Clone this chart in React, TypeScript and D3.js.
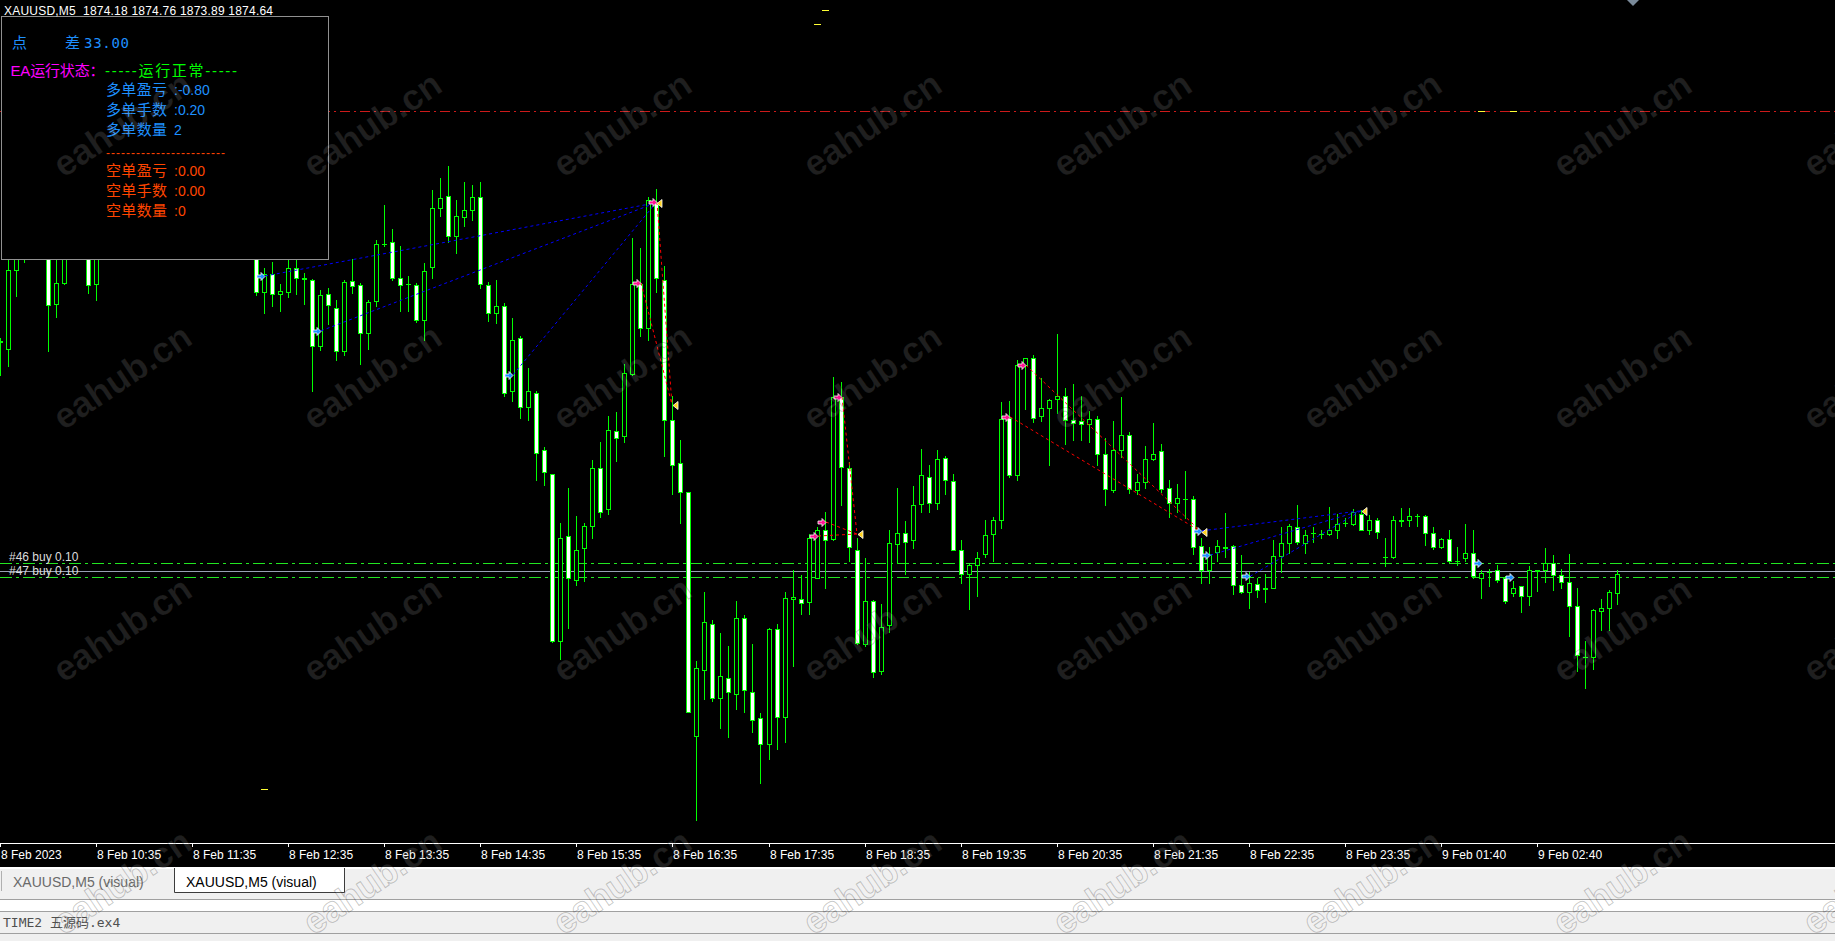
import React from "react";
import * as d3 from "d3";

// XAUUSD M5 bars, one per 5 minutes starting 8 Feb 09:35
const opens = [
  1880.45, 1880.28, 1882.24, 1883.05, 1882.70, 1883.10, 1882.80, 1881.39, 1881.93, 1882.75,
  1882.58, 1882.85, 1881.90, 1882.75, 1883.10, 1882.90, 1883.30, 1883.50, 1883.20, 1882.98,
  1883.25, 1883.45, 1883.13, 1882.85, 1883.05, 1882.78, 1883.00, 1883.23, 1882.95, 1882.75,
  1882.93, 1882.78, 1882.90, 1881.70, 1882.15, 1881.65, 1881.70, 1882.30, 1882.04, 1882.01,
  1880.35, 1881.66, 1881.29, 1880.23, 1881.98, 1881.88, 1880.68, 1881.48, 1882.91, 1882.94,
  1882.04, 1881.90, 1881.88, 1881.01, 1882.32, 1883.80, 1884.11, 1883.10, 1883.58, 1883.75,
  1884.08, 1881.88, 1881.18, 1881.35, 1879.23, 1880.55, 1878.83, 1879.18, 1877.75, 1877.14,
  1872.98, 1875.59, 1874.51, 1875.30, 1875.85, 1877.30, 1876.28, 1878.23, 1878.11, 1879.64,
  1881.90, 1880.81, 1883.93, 1882.01, 1878.50, 1877.43, 1876.69, 1870.61, 1872.25, 1873.40,
  1871.55, 1872.06, 1871.66, 1873.55, 1871.71, 1871.05, 1870.39, 1873.28, 1871.08, 1874.03,
  1874.03, 1873.95, 1874.56, 1875.75, 1875.53, 1879.08, 1877.30, 1875.26, 1872.89, 1873.98,
  1872.22, 1873.37, 1875.41, 1875.68, 1875.49, 1876.41, 1877.08, 1876.43, 1877.55, 1876.98,
  1875.26, 1874.65, 1874.88, 1875.15, 1875.65, 1876.01, 1878.55, 1877.13, 1879.88, 1880.06,
  1878.59, 1878.80, 1879.03, 1879.11, 1878.50, 1878.47, 1878.40, 1878.53, 1877.64, 1876.75,
  1877.75, 1878.13, 1876.75, 1876.94, 1877.53, 1877.73, 1876.80, 1876.43, 1876.53, 1876.53,
  1875.34, 1874.74, 1875.21, 1875.32, 1875.34, 1874.38, 1874.20, 1874.40, 1874.29, 1874.31,
  1875.10, 1875.43, 1875.83, 1875.43, 1875.68, 1875.65, 1875.65, 1875.76, 1875.93, 1875.90,
  1876.15, 1875.76, 1876.01, 1875.08, 1875.08, 1875.99, 1875.99, 1876.10, 1876.10, 1875.68,
  1875.33, 1875.53, 1874.98, 1875.04, 1875.18, 1874.54, 1874.70, 1874.74, 1874.56, 1874.18,
  1874.34, 1874.11, 1874.74, 1874.74, 1874.93, 1874.62, 1874.45, 1873.85, 1872.58, 1872.58,
  1873.73, 1873.81, 1874.18,
];
const highs = [
  1880.55, 1882.63, 1883.20, 1883.30, 1883.38, 1883.25, 1883.00, 1882.75, 1882.80, 1883.00,
  1883.05, 1883.00, 1882.90, 1883.30, 1883.35, 1883.50, 1883.70, 1883.65, 1883.35, 1883.40,
  1883.60, 1883.55, 1883.25, 1883.20, 1883.15, 1883.10, 1883.38, 1883.30, 1883.05, 1883.10,
  1883.05, 1883.00, 1883.00, 1882.30, 1882.45, 1881.90, 1882.50, 1882.50, 1882.18, 1882.03,
  1881.74, 1881.81, 1881.51, 1882.01, 1882.53, 1881.93, 1881.51, 1882.99, 1883.88, 1883.28,
  1882.85, 1882.10, 1881.93, 1882.43, 1884.25, 1884.55, 1884.85, 1883.99, 1884.45, 1884.38,
  1884.45, 1881.96, 1882.00, 1881.43, 1881.05, 1880.59, 1879.80, 1879.23, 1877.83, 1877.15,
  1875.93, 1876.80, 1876.10, 1875.93, 1877.50, 1877.95, 1878.61, 1878.70, 1879.90, 1883.05,
  1882.80, 1884.08, 1884.28, 1882.35, 1879.11, 1878.00, 1876.70, 1872.48, 1874.20, 1873.51,
  1873.18, 1872.86, 1873.98, 1873.63, 1872.89, 1871.18, 1873.29, 1873.40, 1874.20, 1874.76,
  1874.63, 1875.65, 1875.83, 1876.21, 1879.58, 1879.45, 1877.44, 1875.55, 1875.04, 1874.00,
  1873.89, 1875.76, 1876.80, 1875.98, 1876.86, 1877.78, 1877.38, 1877.75, 1877.61, 1877.16,
  1875.49, 1874.90, 1875.20, 1876.01, 1876.08, 1878.95, 1878.98, 1880.00, 1880.06, 1880.13,
  1879.54, 1879.03, 1880.65, 1879.31, 1879.40, 1879.09, 1878.73, 1878.59, 1878.05, 1878.48,
  1879.08, 1878.20, 1877.16, 1877.86, 1878.43, 1877.89, 1877.00, 1876.90, 1877.23, 1876.60,
  1875.55, 1875.33, 1875.49, 1876.18, 1875.38, 1875.13, 1874.70, 1874.54, 1874.65, 1875.49,
  1875.83, 1875.90, 1876.38, 1875.76, 1875.83, 1875.75, 1876.33, 1876.15, 1876.05, 1876.28,
  1876.25, 1876.13, 1876.05, 1875.54, 1876.10, 1876.30, 1876.30, 1876.16, 1876.13, 1875.83,
  1875.55, 1875.76, 1875.33, 1875.91, 1875.75, 1874.76, 1874.78, 1874.88, 1874.60, 1874.48,
  1874.35, 1874.85, 1874.76, 1875.30, 1875.13, 1874.78, 1875.15, 1874.29, 1872.98, 1873.78,
  1874.03, 1874.26, 1874.76,
];
const lows = [
  1879.63, 1879.86, 1881.60, 1882.45, 1882.55, 1882.60, 1880.23, 1881.08, 1881.90, 1882.53,
  1882.53, 1881.68, 1881.49, 1882.63, 1882.75, 1882.80, 1883.15, 1883.05, 1882.80, 1882.85,
  1883.10, 1883.00, 1882.70, 1882.70, 1882.65, 1882.63, 1882.85, 1882.80, 1882.60, 1882.63,
  1882.60, 1882.58, 1881.63, 1881.18, 1881.35, 1881.23, 1881.58, 1881.65, 1881.40, 1879.23,
  1880.26, 1880.90, 1880.00, 1880.13, 1881.68, 1879.90, 1880.28, 1881.35, 1882.85, 1882.00,
  1881.23, 1881.23, 1880.95, 1880.51, 1882.05, 1883.61, 1882.96, 1882.68, 1883.35, 1883.50,
  1881.80, 1880.98, 1880.93, 1879.10, 1878.98, 1878.55, 1878.49, 1877.00, 1876.88, 1872.95,
  1872.53, 1873.29, 1874.38, 1874.48, 1875.55, 1876.08, 1876.15, 1877.48, 1877.96, 1879.63,
  1880.59, 1880.51, 1881.70, 1877.61, 1876.64, 1875.93, 1871.20, 1868.49, 1871.53, 1871.48,
  1870.79, 1870.58, 1871.28, 1871.21, 1870.69, 1869.43, 1870.03, 1870.28, 1870.46, 1872.34,
  1873.65, 1873.65, 1874.55, 1874.30, 1875.51, 1876.38, 1874.98, 1872.91, 1872.84, 1872.08,
  1872.14, 1873.20, 1874.93, 1874.65, 1875.30, 1876.21, 1876.21, 1876.28, 1876.64, 1875.25,
  1874.43, 1873.78, 1874.11, 1875.08, 1874.98, 1875.79, 1877.08, 1877.00, 1878.78, 1878.45,
  1878.48, 1877.38, 1878.68, 1877.89, 1878.00, 1878.00, 1877.95, 1877.38, 1876.38, 1876.71,
  1877.58, 1876.68, 1876.66, 1876.80, 1877.50, 1876.71, 1876.08, 1876.19, 1876.05, 1875.15,
  1874.43, 1874.43, 1874.98, 1875.08, 1874.15, 1874.18, 1873.81, 1874.08, 1873.95, 1874.31,
  1874.70, 1875.18, 1875.40, 1875.18, 1875.45, 1875.56, 1875.63, 1875.56, 1875.85, 1875.88,
  1875.75, 1875.65, 1875.54, 1874.85, 1875.04, 1875.85, 1875.85, 1875.85, 1875.38, 1875.28,
  1875.30, 1874.96, 1874.88, 1874.98, 1874.54, 1874.06, 1874.34, 1874.45, 1873.93, 1874.11,
  1873.70, 1873.88, 1874.23, 1874.45, 1874.26, 1874.29, 1873.09, 1872.22, 1871.80, 1872.28,
  1873.25, 1873.25, 1873.89,
];
const closes = [
  1880.48, 1882.24, 1883.00, 1882.70, 1883.10, 1882.75, 1881.38, 1881.93, 1882.60, 1882.55,
  1882.88, 1881.88, 1882.75, 1883.10, 1882.90, 1883.30, 1883.50, 1883.20, 1882.98, 1883.25,
  1883.45, 1883.13, 1882.85, 1883.05, 1882.78, 1883.00, 1883.23, 1882.95, 1882.75, 1882.93,
  1882.78, 1882.90, 1881.70, 1882.15, 1881.65, 1881.73, 1882.30, 1882.04, 1882.03, 1880.35,
  1881.63, 1881.37, 1880.23, 1881.94, 1881.85, 1880.68, 1881.46, 1882.89, 1882.90, 1882.04,
  1881.88, 1881.89, 1881.01, 1882.23, 1883.80, 1884.05, 1883.10, 1883.60, 1883.75, 1884.08,
  1881.90, 1881.18, 1881.35, 1879.18, 1880.49, 1878.83, 1879.23, 1877.68, 1877.20, 1872.98,
  1875.56, 1874.54, 1875.24, 1875.85, 1877.30, 1876.21, 1878.25, 1878.05, 1879.68, 1881.90,
  1880.79, 1884.00, 1882.04, 1878.50, 1877.38, 1876.71, 1871.21, 1872.30, 1873.45, 1871.55,
  1872.10, 1871.71, 1873.55, 1871.75, 1871.01, 1870.39, 1873.28, 1871.08, 1874.06, 1874.08,
  1873.93, 1875.56, 1875.76, 1875.51, 1879.08, 1877.33, 1875.33, 1872.93, 1873.98, 1872.20,
  1873.33, 1875.43, 1875.68, 1875.45, 1876.38, 1877.13, 1876.43, 1877.53, 1877.00, 1875.26,
  1874.65, 1874.88, 1875.04, 1875.63, 1876.01, 1878.53, 1877.13, 1879.88, 1880.06, 1878.55,
  1878.80, 1879.00, 1879.10, 1878.50, 1878.43, 1878.40, 1878.53, 1877.64, 1876.78, 1877.75,
  1878.13, 1876.78, 1876.94, 1877.53, 1877.66, 1876.78, 1876.43, 1876.55, 1876.52, 1875.33,
  1874.74, 1875.15, 1875.35, 1875.31, 1874.38, 1874.20, 1874.43, 1874.25, 1874.28, 1875.10,
  1875.43, 1875.85, 1875.45, 1875.63, 1875.67, 1875.64, 1875.76, 1875.90, 1875.92, 1876.21,
  1875.76, 1876.01, 1875.71, 1875.07, 1876.01, 1875.98, 1876.10, 1876.09, 1875.68, 1875.33,
  1875.53, 1874.98, 1874.97, 1875.18, 1874.60, 1874.68, 1874.69, 1874.51, 1873.98, 1874.31,
  1874.11, 1874.74, 1874.73, 1874.93, 1874.62, 1874.45, 1873.85, 1872.63, 1872.57, 1873.76,
  1873.81, 1874.20, 1874.64,
];

// time axis: one label every 12 bars
const timeLabels = [
  "8 Feb 2023", "8 Feb 10:35", "8 Feb 11:35", "8 Feb 12:35", "8 Feb 13:35", "8 Feb 14:35",
  "8 Feb 15:35", "8 Feb 16:35", "8 Feb 17:35", "8 Feb 18:35", "8 Feb 19:35", "8 Feb 20:35",
  "8 Feb 21:35", "8 Feb 22:35", "8 Feb 23:35", "9 Feb 01:40", "9 Feb 02:40",
];
const labelStep = 12;

// tester trades
const tradeTypes = ["buy", "buy", "buy", "sell", "sell", "sell", "sell", "sell", "sell", "sell", "buy", "buy", "buy", "buy", "buy"];
const tradeOpenBars = [33, 40, 64, 80, 82, 102, 103, 105, 126, 128, 150, 151, 156, 185, 189];
const tradeOpenPrices = [1882.10, 1880.73, 1879.63, 1881.93, 1883.95, 1875.60, 1875.95, 1879.08, 1878.58, 1879.87, 1875.73, 1875.12, 1874.59, 1874.92, 1874.57];
const tradeCloseBars = [82, 82, 82, 84, 84, 107, 107, 107, 150, 150, 170, 170, 170, -1, -1];
const tradeClosePrices = [1883.93, 1883.93, 1883.93, 1878.88, 1878.88, 1875.65, 1875.65, 1875.65, 1875.71, 1875.71, 1876.23, 1876.23, 1876.23, 0, 0];

// small stop / target marks
const markBars = [33, 102, 103, 185, 189];
const markPrices = [1869.28, 1888.39, 1888.74, 1886.23, 1886.23];

// open orders and levels
const orderLabels = ["#46 buy 0.10", "#47 buy 0.10"];
const orderPrices = [1874.92, 1874.57];
const priceLine = 1874.72;
const targetLine = 1886.23;

const headerText = "XAUUSD,M5  1874.18 1874.76 1873.89 1874.64";
const longLabels = ["多单盈亏", "多单手数", "多单数量"];
const longValues = [":-0.80", ":0.20", "2"];
const shortLabels = ["空单盈亏", "空单手数", "空单数量"];
const shortValues = [":0.00", ":0.00", ":0"];

const W = 1835;
const H = 941;
const LIME = "#00ff00";
const SANS = "'Liberation Sans', Arial, sans-serif";
const MIX = "'Liberation Sans', 'Noto Sans CJK SC', sans-serif";
const CJK = "'Noto Sans CJK SC', sans-serif";

export default function App() {
  const x = d3.scaleLinear().domain([0, 192]).range([0, 1537]);
  const y = d3.scaleLinear().domain([1870, 1890]).range([760, -40]);
  const bx = (i: number) => Math.round(x(i));
  const py = (p: number) => Math.round(y(p)) + 0.5;
  const axisY = 843;

  const candles = opens.map((o, i) => {
    const c = closes[i];
    const cx = bx(i);
    const yH = Math.round(y(highs[i]));
    const yL = Math.round(y(lows[i]));
    const top = Math.round(Math.min(y(o), y(c)));
    const bot = Math.round(Math.max(y(o), y(c)));
    const bull = c >= o;
    return (
      <g key={i}>
        <line x1={cx + 0.5} x2={cx + 0.5} y1={yH} y2={yL + 1} stroke={LIME} />
        {bot - top < 1 ? (
          <line x1={cx - 2} x2={cx + 3} y1={top + 0.5} y2={top + 0.5} stroke={LIME} />
        ) : (
          <rect x={cx - 1.5} y={top + 0.5} width={4} height={bot - top} fill={bull ? "#000" : "#fff"} stroke={LIME} />
        )}
      </g>
    );
  });

  const rightArrow = (tip: number, yy: number, fill: string, key: string) => (
    <path
      key={key}
      d={`M${tip},${yy} L${tip - 4},${yy - 4} L${tip - 4},${yy - 1.5} L${tip - 8},${yy - 1.5} L${tip - 8},${yy + 1.5} L${tip - 4},${yy + 1.5} L${tip - 4},${yy + 4} Z`}
      fill={fill}
      stroke="#fff"
      strokeWidth={0.8}
    />
  );
  const closeArrow = (tip: number, yy: number, key: string) => (
    <path key={key} d={`M${tip},${yy} L${tip + 5},${yy - 4} L${tip + 5},${yy + 4} Z`} fill="#ffd21f" stroke="#fff" strokeWidth={0.8} />
  );

  const tradeLines = tradeTypes.map((t, k) => {
    if (tradeCloseBars[k] < 0) return null;
    return (
      <line
        key={"tl" + k}
        x1={bx(tradeOpenBars[k]) + 1}
        y1={y(tradeOpenPrices[k])}
        x2={bx(tradeCloseBars[k])}
        y2={y(tradeClosePrices[k])}
        stroke={t === "buy" ? "#0000ff" : "#ff0000"}
        strokeDasharray="3 3"
      />
    );
  });
  const openArrows = tradeTypes.map((t, k) =>
    rightArrow(bx(tradeOpenBars[k]) + 1, py(tradeOpenPrices[k]), t === "buy" ? "#1e90ff" : "#ff1493", "oa" + k)
  );
  const closeMarks = Array.from(new Set(tradeCloseBars.filter((b) => b >= 0))).map((b) => {
    const k = tradeCloseBars.indexOf(b);
    return closeArrow(bx(b) + 1, py(tradeClosePrices[k]), "ca" + b);
  });

  const watermarks: JSX.Element[] = [];
  for (let j = 0; j < 4; j++) {
    for (let k = 0; k < 8; k++) {
      const wx = 122 + 250 * k;
      const wy = 124 + 252.5 * j;
      watermarks.push(
        <text
          key={`w${j}-${k}`}
          transform={`translate(${wx},${wy}) rotate(-34)`}
          textAnchor="middle"
          dominantBaseline="central"
          fontFamily={SANS}
          fontWeight="bold"
          fontSize={36}
          fill="rgba(255,255,255,0.13)"
          stroke="rgba(0,0,0,0.22)"
          strokeWidth={1}
        >
          eahub.cn
        </text>
      );
    }
  }

  return (
    <svg width={W} height={H} style={{ position: "fixed", left: 0, top: 0, display: "block" }}>
      <rect x={0} y={0} width={W} height={867} fill="#000" />

      {/* levels */}
      <line x1={0} x2={W} y1={py(targetLine)} y2={py(targetLine)} stroke="#cc1a1a" strokeDasharray="10 4 2 4" />
      {orderPrices.map((p, k) => (
        <line key={"ol" + k} x1={0} x2={W} y1={py(p)} y2={py(p)} stroke="#22e622" strokeDasharray="12 4 3 4" />
      ))}
      <line x1={0} x2={W} y1={py(priceLine)} y2={py(priceLine)} stroke="#98a0b4" />

      <g shapeRendering="crispEdges">{candles}</g>
      {tradeLines}
      {openArrows}
      {closeMarks}
      {markBars.map((b, k) => (
        <line key={"m" + k} x1={bx(b) - 3} x2={bx(b) + 4} y1={py(markPrices[k])} y2={py(markPrices[k])} stroke="#ffff33" />
      ))}

      {orderLabels.map((t, k) => (
        <text key={"olt" + k} x={9} y={y(orderPrices[k]) - 2.5} fontFamily={SANS} fontSize={12} fill="#dcdcdc">
          {t}
        </text>
      ))}

      {/* chart shift marker */}
      <path d="M1627,0 L1639,0 L1633,6 Z" fill="#7a8a9a" />

      {/* info panel */}
      <rect x={1.5} y={16.5} width={327} height={243} fill="#000" stroke="#909090" />
      <text x={12} y={47.5} fontFamily={CJK} fontSize={15} fill="#1e90ff">点</text>
      <text x={65} y={47.5} fontFamily={CJK} fontSize={15} fill="#1e90ff">差</text>
      <text x={84} y={47.5} fontFamily="'DejaVu Sans Mono', monospace" fontSize={14} fill="#1e90ff" textLength={45}>33.00</text>
      <text x={10.5} y={75.5} fontFamily={MIX} fontSize={15} fill="#ff00ff" textLength={94}>EA运行状态：</text>
      <text x={105} y={75.5} fontFamily={MIX} fontSize={15} fill="#00ff00" textLength={132}>-----运行正常-----</text>
      {longLabels.map((t, k) => (
        <g key={"ll" + k}>
          <text x={106} y={94.5 + 20 * k} fontFamily={CJK} fontSize={15} fill="#1e90ff" textLength={61}>{t}</text>
          <text x={174} y={94.5 + 20 * k} fontFamily={SANS} fontSize={14} fill="#1e90ff">{longValues[k]}</text>
        </g>
      ))}
      <text x={106} y={156.5} fontFamily={SANS} fontSize={12} fill="#ff4500" textLength={119}>
        ------------------------
      </text>
      {shortLabels.map((t, k) => (
        <g key={"sl" + k}>
          <text x={106} y={175.5 + 20 * k} fontFamily={CJK} fontSize={15} fill="#ff4500" textLength={61}>{t}</text>
          <text x={174} y={175.5 + 20 * k} fontFamily={SANS} fontSize={14} fill="#ff4500">{shortValues[k]}</text>
        </g>
      ))}
      <text x={4} y={15} fontFamily={SANS} fontSize={12} fill="#fff" textLength={269} style={{ whiteSpace: "pre" }}>
        {headerText}
      </text>

      {/* time axis */}
      <line x1={0} x2={W} y1={axisY + 0.5} y2={axisY + 0.5} stroke="#fff" />
      {timeLabels.map((t, k) => {
        const tx = bx(k * labelStep);
        return (
          <g key={"t" + k}>
            <line x1={tx + 0.5} x2={tx + 0.5} y1={axisY} y2={axisY + 4} stroke="#fff" />
            <text x={tx + 1} y={859} fontFamily={SANS} fontSize={12} fill="#fff">{t}</text>
          </g>
        );
      })}

      {/* tabs and status bar */}
      <rect x={0} y={867} width={W} height={H - 867} fill="#f0f0f0" />
      <rect x={0} y={867} width={W} height={2} fill="#ffffff" />
      <line x1={1.5} x2={1.5} y1={871} y2={891} stroke="#b0b0b0" />
      <text x={13} y={887} fontFamily={SANS} fontSize={14} fill="#6a6a6a">XAUUSD,M5 (visual)</text>
      <path d="M174.5,868 V892.5 H344.5 V868" fill="#fff" stroke="#3c3c3c" />
      <text x={186} y={887} fontFamily={SANS} fontSize={14} fill="#000">XAUUSD,M5 (visual)</text>
      <rect x={0} y={899} width={W} height={1} fill="#a0a0a0" />
      <rect x={0} y={900} width={W} height={11} fill="#ffffff" />
      <rect x={0} y={911} width={W} height={1} fill="#a0a0a0" />
      <text x={3} y={927} fontFamily="'DejaVu Sans Mono', 'Noto Sans CJK SC', monospace" fontSize={13} fill="#505050">TIME2 五源码.ex4</text>
      <rect x={0} y={933} width={W} height={1} fill="#a0a0a0" />

      {watermarks}
    </svg>
  );
}
